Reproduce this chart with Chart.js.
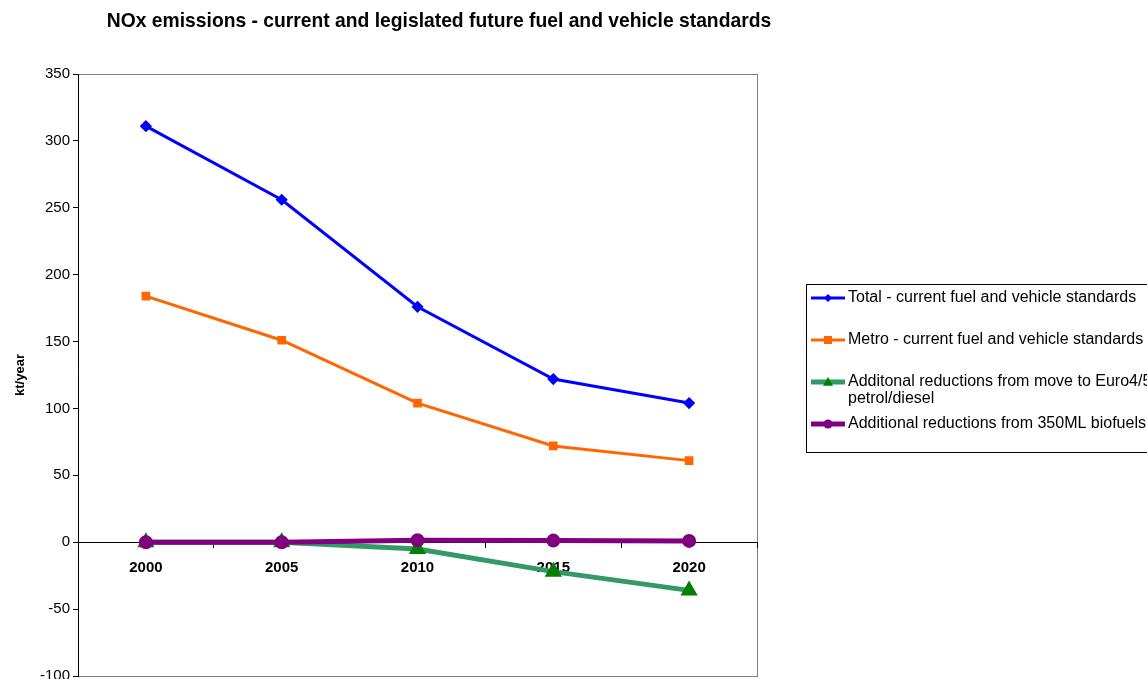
<!DOCTYPE html>
<html>
<head>
<meta charset="utf-8">
<title>NOx emissions</title>
<script src="https://cdn.jsdelivr.net/npm/chart.js@4.4.0/dist/chart.umd.min.js"></script>
<style>
	html, body { margin: 0; padding: 0; background: #fff; overflow: hidden; }
	#wrap { width: 1147px; height: 679px; overflow: hidden; }
	canvas { display: block; }
</style>
</head>
<body>
<div id="wrap"><canvas id="nox-chart" width="1147" height="688"></canvas></div>
<script>
'use strict';

const years = ['2000', '2005', '2010', '2015', '2020'];
const totalCurrent = [311, 256, 176, 122, 104];
const metroCurrent = [184, 151, 104, 72, 61];
const euroReductions = [0, 0, -5, -22, -36];
const biofuelReductions = [0, 0, 1.5, 1.2, 1];

const yMin = -100;
const yMax = 350;
const yStep = 50;

const chartTitle = 'NOx emissions - current and legislated future fuel and vehicle standards';
const yTitle = 'kt/year';

const FONT = '"Liberation Sans", Arial, sans-serif';

// marker shapes for the hand-drawn legend
function drawMarker(ctx, style, x, y, r, color){
	ctx.save();
	ctx.fillStyle = color;
	ctx.beginPath();
	if(style === 'rectRot'){
		ctx.moveTo(x, y - r); ctx.lineTo(x + r, y); ctx.lineTo(x, y + r); ctx.lineTo(x - r, y);
	} else if(style === 'rect'){
		ctx.rect(x - r, y - r, r * 2, r * 2);
	} else if(style === 'triangle'){
		ctx.moveTo(x, y - r); ctx.lineTo(x + r, y + r * 0.75); ctx.lineTo(x - r, y + r * 0.75);
	} else {
		ctx.arc(x, y, r, 0, Math.PI * 2);
	}
	ctx.closePath();
	ctx.fill();
	ctx.restore();
}

// grey frame round the plot area (the axes draw their own black lines on top)
const plotFrame = {
	id: 'plotFrame',
	beforeDraw(chart){
		const {ctx, chartArea: a} = chart;
		ctx.save();
		ctx.strokeStyle = '#808080';
		ctx.lineWidth = 1;
		ctx.strokeRect(Math.round(a.left) + 0.5, Math.round(a.top) + 0.5, Math.round(a.right - a.left), Math.round(a.bottom - a.top));
		ctx.restore();
	}
};

// title over the plot and the boxed legend on the right
const titleAndLegend = {
	id: 'titleAndLegend',
	afterDraw(chart){
		const ctx = chart.ctx;
		ctx.save();
		ctx.fillStyle = '#000';
		ctx.font = 'bold 19.3px ' + FONT;
		ctx.textAlign = 'center';
		ctx.textBaseline = 'middle';
		ctx.fillText(chartTitle, 439, 22);

		ctx.strokeStyle = '#000';
		ctx.lineWidth = 1;
		ctx.strokeRect(806.5, 284.5, 420, 168);

		ctx.font = '16px ' + FONT;
		ctx.textAlign = 'left';
		const rows = [298, 340, 382, 424];
		chart.data.datasets.forEach(function(ds, i){
			const y = rows[i];
			ctx.strokeStyle = ds.borderColor;
			ctx.lineWidth = ds.borderWidth;
			ctx.beginPath();
			ctx.moveTo(811, y);
			ctx.lineTo(845, y);
			ctx.stroke();
			drawMarker(ctx, ds.pointStyle, 828, y, ds.pointRadius, ds.pointBackgroundColor);
			ctx.fillStyle = '#000';
			const lines = Array.isArray(ds.label) ? ds.label : [ds.label];
			lines.forEach(function(t, k){
				ctx.fillText(t, 848, y + k * 17);
			});
		});
		ctx.restore();
	}
};

new Chart(document.getElementById('nox-chart'), {
	type: 'line',
	data: {
		labels: years,
		datasets: [{
			label: 'Total - current fuel and vehicle standards',
			data: totalCurrent,
			borderColor: '#0000ff',
			borderWidth: 3,
			pointStyle: 'rectRot',
			pointRadius: 4,
			pointBackgroundColor: '#0000ff',
			pointBorderColor: '#0000ff',
			order: 4
		}, {
			label: 'Metro - current fuel and vehicle standards',
			data: metroCurrent,
			borderColor: '#ff6600',
			borderWidth: 3,
			pointStyle: 'rect',
			pointRadius: 4,
			pointBackgroundColor: '#ff6600',
			pointBorderColor: '#ff6600',
			order: 3
		}, {
			label: ['Additonal reductions from move to Euro4/5', 'petrol/diesel'],
			data: euroReductions,
			borderColor: '#339966',
			borderWidth: 5,
			pointStyle: 'triangle',
			pointRadius: 5,
			pointBackgroundColor: '#008000',
			pointBorderColor: '#008000',
			order: 2
		}, {
			label: 'Additional reductions from 350ML biofuels',
			data: biofuelReductions,
			borderColor: '#800080',
			borderWidth: 5,
			pointStyle: 'circle',
			pointRadius: 4.5,
			pointBackgroundColor: '#800080',
			pointBorderColor: '#800080',
			order: 1
		}]
	},
	options: {
		responsive: false,
		animation: false,
		layout: { padding: { left: 13, right: 390, top: 74, bottom: 3 } },
		plugins: {
			legend: { display: false },
			title: { display: false },
			tooltip: { enabled: false }
		},
		elements: { line: { tension: 0 } },
		scales: {
			x: {
				position: { y: 0 },
				offset: true,
				ticks: { color: '#000', font: { family: FONT, size: 15, weight: 'bold' }, padding: 12, maxRotation: 0 },
				grid: { offset: true, drawOnChartArea: false, tickLength: 5, color: '#000' },
				border: { color: '#000', width: 1 }
			},
			y: {
				min: yMin,
				max: yMax,
				ticks: { stepSize: yStep, color: '#000', font: { family: FONT, size: 15 }, padding: 3 },
				grid: { drawOnChartArea: false, tickLength: 5, color: '#000' },
				border: { color: '#000', width: 1 },
				title: { display: true, text: yTitle, color: '#000', font: { family: FONT, size: 13, weight: 'bold' }, padding: 0 },
				afterFit: function(scale){ scale.width = 65; }
			}
		}
	},
	plugins: [plotFrame, titleAndLegend]
});
</script>
</body>
</html>
